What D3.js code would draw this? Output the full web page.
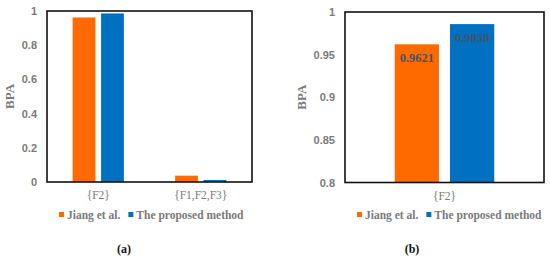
<!DOCTYPE html>
<html>
<head>
<meta charset="utf-8">
<script src="https://cdn.jsdelivr.net/npm/d3@7"></script>
<style>
  body { margin: 0; background: #fff; }
</style>
</head>
<body>
<div id="chart"></div>
<script>
// Chart data
const series = ['Jiang et al.', 'The proposed method'];
const colors = ['#ff6a00', '#0070c0'];

const categoriesA = ['{F2}', '{F1,F2,F3}'];
const jiangA = [0.9621, 0.037];
const proposedA = [0.9858, 0.012];
const ticksA = [0, 0.2, 0.4, 0.6, 0.8, 1];

const categoriesB = ['{F2}'];
const jiangB = [0.9621];
const proposedB = [0.9858];
const ticksB = [0.8, 0.85, 0.9, 0.95, 1];

const width = 550;
const height = 263;
const SERIF = '"Liberation Serif", "Times New Roman", "DejaVu Serif", serif';
const SANS = '"Liberation Sans", Arial, "DejaVu Sans", sans-serif';

const svg = d3.select('#chart')
    .append('svg')
    .attr('width', width)
    .attr('height', height);

function drawPanel(opts) {
    const { left, right, top, bottom, categories, values, domain, ticks, labels, tag, legendX, tagX } = opts;
    const g = svg.append('g');

    const x0 = d3.scaleBand()
        .domain(categories)
        .range([left, right])
        .paddingInner(0.5)
        .paddingOuter(0.25);
    const x1 = d3.scaleBand()
        .domain(series)
        .range([0, x0.bandwidth()])
        .paddingInner(0.2);
    const y = d3.scaleLinear().domain(domain).range([bottom, top]);

    // bars
    categories.forEach((c, ci) => {
        series.forEach((s, si) => {
            const v = values[si][ci];
            g.append('rect')
                .attr('x', x0(c) + x1(s))
                .attr('y', y(v))
                .attr('width', x1.bandwidth())
                .attr('height', bottom - y(v))
                .attr('fill', colors[si]);
            if (labels) {
                g.append('text')
                    .attr('x', x0(c) + x1(s) + x1.bandwidth() / 2)
                    .attr('y', y(v) + 18)
                    .attr('text-anchor', 'middle')
                    .style('font-family', SERIF)
                    .style('font-size', '12.5px')
                    .style('font-weight', 'bold')
                    .attr('fill', '#44546a')
                    .text(d3.format('.4f')(v));
            }
        });
    });

    // frame
    g.append('rect')
        .attr('x', left)
        .attr('y', top)
        .attr('width', right - left)
        .attr('height', bottom - top)
        .attr('fill', 'none')
        .attr('stroke', '#111')
        .attr('stroke-width', 1.6);

    // y axis labels
    const yAxis = d3.axisLeft(y).tickValues(ticks).tickSize(0).tickPadding(10)
        .tickFormat(d3.format('~g'));
    const ya = g.append('g').attr('transform', `translate(${left},0)`).call(yAxis);
    ya.select('.domain').remove();
    ya.selectAll('text')
        .style('font-family', SANS)
        .style('font-size', '11px')
        .style('font-weight', 'bold')
        .attr('fill', '#7a7a7a');

    // x axis labels
    const xa = g.append('g').attr('transform', `translate(0,${bottom})`)
        .call(d3.axisBottom(x0).tickSize(0).tickPadding(9));
    xa.select('.domain').remove();
    xa.selectAll('text')
        .style('font-family', SERIF)
        .style('font-size', '11.5px')
        .attr('fill', '#7a7a7a');

    // y title
    g.append('text')
        .attr('transform', `translate(${opts.titleX},${(top + bottom) / 2}) rotate(-90)`)
        .attr('text-anchor', 'middle')
        .style('font-family', SERIF)
        .style('font-size', '13px')
        .style('font-weight', 'bold')
        .attr('fill', '#7a7a7a')
        .text('BPA');

    // legend
    const lg = g.append('g').attr('transform', `translate(${legendX},215)`);
    let lx = 0;
    series.forEach((s, si) => {
        lg.append('rect')
            .attr('x', lx).attr('y', -3)
            .attr('width', 5).attr('height', 5)
            .attr('fill', colors[si]);
        const t = lg.append('text')
            .attr('x', lx + 8).attr('y', 0)
            .attr('dy', '0.35em')
            .style('font-family', SERIF)
            .style('font-size', '11.5px')
            .style('font-weight', 'bold')
            .attr('fill', '#7a7a7a')
            .text(s);
        lx += 8 + t.node().getComputedTextLength() + 8;
    });

    // panel tag
    g.append('text')
        .attr('x', tagX).attr('y', 253)
        .attr('text-anchor', 'middle')
        .style('font-family', SERIF)
        .style('font-size', '12px')
        .style('font-weight', 'bold')
        .attr('fill', '#111')
        .text(tag);
}

drawPanel({
    left: 47, right: 252, top: 11, bottom: 182,
    categories: categoriesA, values: [jiangA, proposedA],
    domain: [0, 1], ticks: ticksA, labels: false,
    titleX: 14, legendX: 59, tag: '(a)', tagX: 124
});

drawPanel({
    left: 345, right: 544, top: 12, bottom: 182.5,
    categories: categoriesB, values: [jiangB, proposedB],
    domain: [0.8, 1], ticks: ticksB, labels: true,
    titleX: 306, legendX: 357, tag: '(b)', tagX: 412
});
</script>
</body>
</html>
